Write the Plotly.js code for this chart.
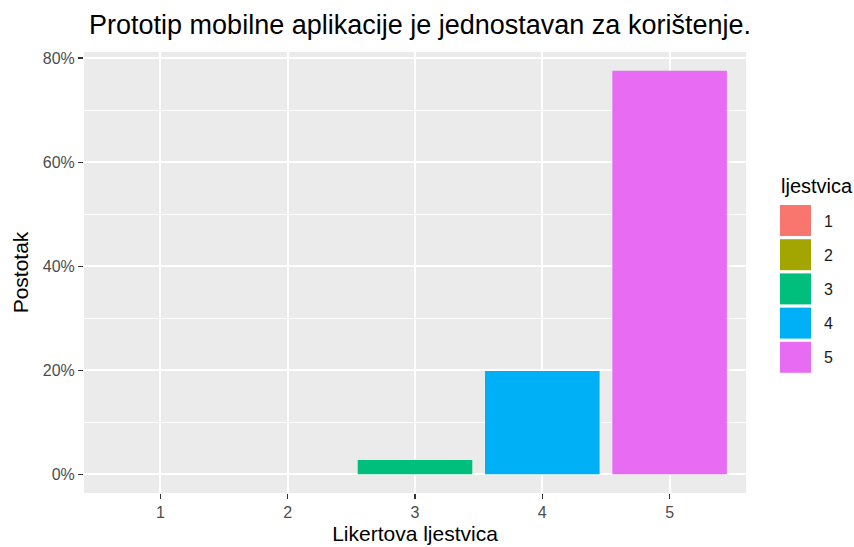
<!DOCTYPE html>
<html>
<head>
<meta charset="utf-8">
<script src="https://cdn.plot.ly/plotly-3.0.1.min.js"></script>
<style>html,body{margin:0;padding:0;background:#fff;}#chart{width:854px;height:547px;}</style>
</head>
<body>
<div id="chart"></div>
<script>
// ---- data ----
const categories = ["1", "2", "3", "4", "5"];
const percentages = [0, 0, 2.75, 19.85, 77.6];
const barColors = ["#F8766D", "#A3A500", "#00BF7D", "#00B0F6", "#E76BF3"];
const yTickVals = [0, 20, 40, 60, 80];
const yTickText = ["0%", "20%", "40%", "60%", "80%"];
const titleText = "Prototip mobilne aplikacije je jednostavan za korištenje.";
const xTitle = "Likertova ljestvica";
const yTitle = "Postotak";
const legendTitle = "ljestvica";

// ---- layout geometry (pixels) ----
const W = 854, H = 547;
const M = {l: 84, r: 108, t: 52, b: 54};
const PW = W - M.l - M.r, PH = H - M.t - M.b;
const px = x => (x - M.l) / PW;
const py = y => (H - M.b - y) / PH;
const FONT = "Liberation Sans, Arial, Helvetica, sans-serif";

const trace = {
  type: "bar",
  x: categories,
  y: percentages,
  width: 0.9,
  marker: {color: barColors, line: {width: 0}},
  showlegend: false,
  hoverinfo: "x+y"
};

const shapes = [];
const annotations = [];
// legend (manual, ggplot-style large keys)
annotations.push({
  xref: "paper", yref: "paper", x: px(779), y: py(186),
  xanchor: "left", yanchor: "middle", showarrow: false,
  text: legendTitle, font: {family: FONT, size: 20, color: "#000"}
});
categories.forEach((c, i) => {
  const top = 205 + 34.2 * i;
  shapes.push({
    type: "rect", xref: "paper", yref: "paper",
    x0: px(780), x1: px(811), y0: py(top + 31), y1: py(top),
    fillcolor: barColors[i], line: {width: 0}, layer: "above"
  });
  annotations.push({
    xref: "paper", yref: "paper", x: px(822), y: py(top + 16),
    xanchor: "left", yanchor: "middle", showarrow: false,
    text: c, font: {family: FONT, size: 16, color: "#1a1a1a"}
  });
});

const layout = {
  width: W, height: H,
  margin: M,
  paper_bgcolor: "#ffffff",
  plot_bgcolor: "#EBEBEB",
  font: {family: FONT},
  title: {
    text: titleText,
    font: {family: FONT, size: 27, color: "#000"},
    x: 420 / W, xanchor: "center", xref: "container",
    y: 1 - 25 / H, yanchor: "middle", yref: "container"
  },
  xaxis: {
    type: "category",
    range: [-0.6, 4.6],
    showgrid: true, gridcolor: "#ffffff", gridwidth: 2,
    zeroline: false, showline: false,
    ticks: "outside", ticklen: 5, tickwidth: 1.5, tickcolor: "#333333",
    tickfont: {family: FONT, size: 16, color: "#4D4D4D"},
    title: {text: xTitle, font: {family: FONT, size: 21, color: "#000"}, standoff: 6},
    fixedrange: true
  },
  yaxis: {
    range: [-3.6, 81.2],
    tickvals: yTickVals, ticktext: yTickText,
    showgrid: true, gridcolor: "#ffffff", gridwidth: 2,
    minor: {dtick: 10, tick0: 10, showgrid: true, gridcolor: "#ffffff", gridwidth: 1, ticks: ""},
    zeroline: false, showline: false,
    ticks: "outside", ticklen: 5, tickwidth: 1.5, tickcolor: "#333333",
    tickfont: {family: FONT, size: 16, color: "#4D4D4D"},
    title: {text: yTitle, font: {family: FONT, size: 21, color: "#000"}, standoff: 8},
    fixedrange: true
  },
  shapes: shapes,
  annotations: annotations,
  bargap: 0.1
};

Plotly.newPlot("chart", [trace], layout, {displayModeBar: false, staticPlot: true});
</script>
</body>
</html>
